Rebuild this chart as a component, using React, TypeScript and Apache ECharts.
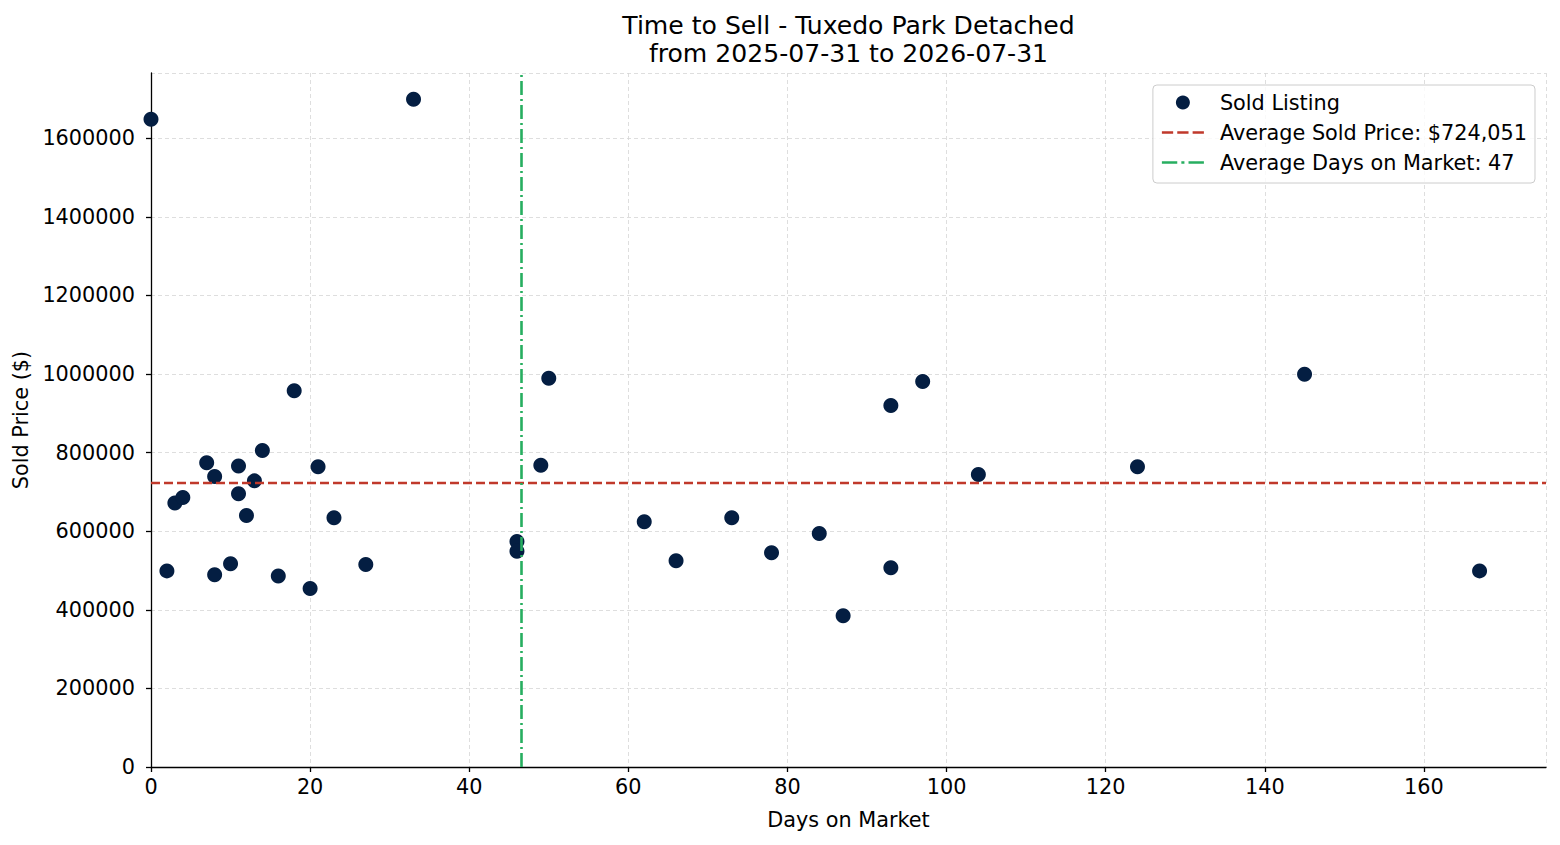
import { useEffect, useRef } from "react";
import * as echarts from "echarts";

// days on market / sold price for each sold listing
const days = [0, 2, 3, 4, 7, 8, 8, 10, 11, 11, 12, 13, 14, 16, 18, 20, 21, 23, 27, 33, 46, 46, 49, 50, 62, 66, 73, 78, 84, 87, 93, 93, 97, 104, 124, 145, 167];
const prices = [1648000, 499000, 672000, 686000, 774000, 739000, 489000, 517000, 766000, 695000, 640000, 728000, 805000, 486000, 957000, 454000, 764000, 634000, 515000, 1699000, 574000, 549000, 768000, 989000, 624000, 525000, 634000, 545000, 594000, 385000, 920000, 507000, 981000, 744000, 764000, 999000, 499000];

const avgPrice = 724051;
const avgDays = 46.6;
const titleLines = ["Time to Sell - Tuxedo Park Detached", "from 2025-07-31 to 2026-07-31"];
const legendNames = ["Sold Listing", "Average Sold Price: $724,051", "Average Days on Market: 47"];

const NAVY = "#041e42";
const RED = "#c0392b";
const GREEN = "#27ae60";
const FONT = "DejaVu Sans";
const FS = 20.8;

const dashIcon = "path://M0,0h11v2.5h-11z M15,0h11v2.5h-11z M30,0h11v2.5h-11z";
const dashDotIcon = "path://M0,0h15v2.5h-15z M19,0h3v2.5h-3z M26,0h15v2.5h-15z";

export default function App() {
  const ref = useRef<HTMLDivElement | null>(null);

  useEffect(() => {
    if (!ref.current) return;
    const chart = echarts.init(ref.current, undefined, { renderer: "svg" });

    const axisCommon = {
      axisLine: { show: true, onZero: false, lineStyle: { color: "#000", width: 1.3 } },
      axisTick: { show: true, inside: false, length: 5, lineStyle: { color: "#000", width: 1.3 } },
      splitLine: { show: true, lineStyle: { color: "#d6d6d6", width: 0.8, type: [4, 3] } },
      nameTextStyle: { color: "#000", fontSize: FS, fontFamily: FONT },
    };

    chart.setOption({
      animation: false,
      textStyle: { fontFamily: FONT },
      graphic: [
        {
          type: "text",
          x: 848.5,
          y: 11,
          style: {
            text: titleLines.join("\n"),
            align: "center",
            fill: "#000",
            font: `25.1px "${FONT}"`,
            lineHeight: 28,
          },
        },
      ],
      grid: { left: 151, right: 14, top: 73, bottom: 78, containLabel: false },
      legend: {
        orient: "vertical",
        right: 25,
        top: 85,
        itemWidth: 42,
        itemHeight: 14,
        itemGap: 9,
        padding: [7, 8, 10, 9],
        backgroundColor: "rgba(255,255,255,0.8)",
        borderColor: "#cccccc",
        borderWidth: 1,
        borderRadius: 4,
        textStyle: { color: "#000", fontSize: FS, fontFamily: FONT, lineHeight: 20, padding: [0, 0, 0, 11] },
        data: [
          { name: legendNames[0], icon: "circle" },
          { name: legendNames[1], icon: dashIcon },
          { name: legendNames[2], icon: dashDotIcon },
        ],
      },
      xAxis: {
        type: "value",
        min: 0,
        max: 175.35,
        interval: 20,
        name: "Days on Market",
        nameLocation: "middle",
        nameGap: 42,
        ...axisCommon,
        axisLabel: { color: "#000", fontSize: FS, margin: 9, showMaxLabel: false },
      },
      yAxis: {
        type: "value",
        min: 0,
        max: 1765765,
        interval: 200000,
        name: "Sold Price ($)",
        nameLocation: "middle",
        nameGap: 114,
        ...axisCommon,
        axisLabel: { color: "#000", fontSize: FS, margin: 16, showMaxLabel: false, formatter: (v: number) => String(v) },
      },
      series: [
        {
          name: legendNames[0],
          type: "scatter",
          symbolSize: 15,
          itemStyle: { color: NAVY, opacity: 1 },
          data: days.map((d, i) => [d, prices[i]]),
        },
        {
          name: legendNames[1],
          type: "line",
          color: RED,
          data: [],
          markLine: {
            silent: true,
            symbol: "none",
            label: { show: false },
            lineStyle: { color: RED, width: 2.4, type: [9, 4] },
            data: [{ yAxis: avgPrice }],
          },
        },
        {
          name: legendNames[2],
          type: "line",
          color: GREEN,
          data: [],
          markLine: {
            silent: true,
            symbol: "none",
            label: { show: false },
            lineStyle: { color: GREEN, width: 2.6, type: [14, 4, 2, 4] },
            data: [{ xAxis: avgDays }],
          },
        },
      ],
    });

    return () => chart.dispose();
  }, []);

  return (
    <div
      ref={ref}
      style={{ position: "fixed", left: 0, top: 0, width: 1560, height: 845, background: "#fff" }}
    />
  );
}
